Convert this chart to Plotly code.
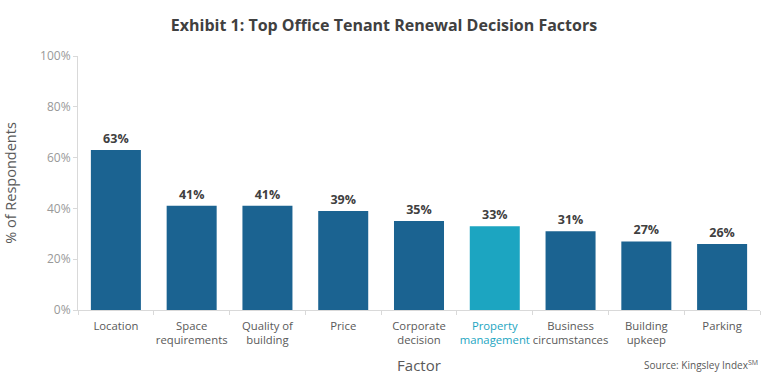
import plotly.graph_objects as go

categories = ["Location", "Space<br>requirements", "Quality of<br>building", "Price",
              "Corporate<br>decision", "Property<br>management", "Business<br>circumstances",
              "Building<br>upkeep", "Parking"]
values = [63, 41, 41, 39, 35, 33, 31, 27, 26]
highlight = "Property<br>management"
y_ticks = [0, 20, 40, 60, 80, 100]
y_ticktext = ["0%", "20%", "40%", "60%", "80%", "100%"]

dark = "#1b6391"
teal = "#1ca5c1"
colors = [teal if c == highlight else dark for c in categories]
ticktext = [f'<span style="color:{teal}">{c}</span>' if c == highlight else c for c in categories]

fig = go.Figure(go.Bar(
    x=categories, y=values,
    marker=dict(color=colors, line=dict(width=0)),
    text=[f"<b>{v}%</b>" for v in values],
    textposition="outside",
    textfont=dict(family="Open Sans", size=12.5, color="#404040"),
    cliponaxis=False,
))

fig.update_layout(
    width=768, height=391,
    margin=dict(l=78, r=8, t=56, b=81),
    paper_bgcolor="white", plot_bgcolor="white",
    bargap=0.34,
    showlegend=False,
    title=dict(text="<b>Exhibit 1: Top Office Tenant Renewal Decision Factors</b>",
               x=0.5, xanchor="center", y=0.935, yanchor="middle",
               font=dict(family="Open Sans", size=16, color="#404040")),
    font=dict(family="Open Sans"),
)

fig.update_xaxes(
    tickmode="array", tickvals=categories, ticktext=ticktext, tickangle=0,
    tickson="boundaries", ticks="outside", ticklen=4, tickcolor="#d9d9d9",
    ticklabelstandoff=5,
    showline=True, linecolor="#d9d9d9", linewidth=1, automargin=False,
    tickfont=dict(family="Open Sans", size=11.3, color="#595959"),
    title=dict(text="Factor", font=dict(family="Open Sans", size=15, color="#595959"), standoff=14),
)
fig.update_yaxes(
    range=[0, 100], tickmode="array", tickvals=y_ticks, ticktext=y_ticktext,
    showgrid=False, zeroline=False, automargin=False,
    ticks="outside", ticklen=4, tickcolor="#d9d9d9",
    showline=True, linecolor="#d9d9d9", linewidth=1,
    tickfont=dict(family="Open Sans", size=12, color="#999999"),
    title=dict(text="% of Respondents", font=dict(family="Open Sans", size=14.5, color="#595959"), standoff=20),
)

fig.add_annotation(
    text="Source: Kingsley Index<sup>SM</sup>",
    xref="paper", yref="paper", x=1.0, y=-0.215, xanchor="right", yanchor="middle",
    showarrow=False, font=dict(family="Open Sans", size=10, color="#595959"),
)

fig.write_html("out.html", post_script="document.body.style.margin='0';",
               config={"displayModeBar": False})
